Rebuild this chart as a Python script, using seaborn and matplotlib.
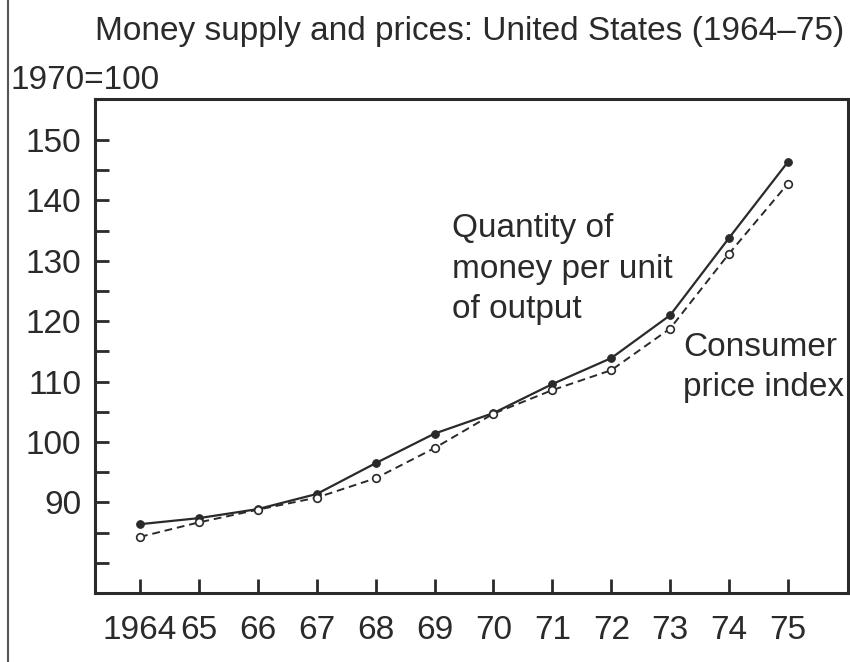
import matplotlib
matplotlib.use('Agg')
import matplotlib.pyplot as plt
from matplotlib.lines import Line2D
import numpy as np
import pandas as pd
import seaborn as sns

# ---------------------------------------------------------------------------
# Dados (1970=100)
# ---------------------------------------------------------------------------
anos = [1964, 1965, 1966, 1967, 1968, 1969, 1970, 1971, 1972, 1973, 1974, 1975]
rotulos_anos = ['1964', '65', '66', '67', '68', '69', '70', '71', '72', '73', '74', '75']
moeda_por_produto = [86.4, 87.4, 88.9, 91.4, 96.5, 101.4, 104.8, 109.6, 113.9, 121.0, 133.8, 146.4]
indice_precos = [84.3, 86.7, 88.8, 90.8, 94.0, 99.0, 104.7, 108.6, 111.9, 118.8, 131.2, 142.8]

sns.set_theme(style="ticks")
plt.rcParams['font.family'] = ['Liberation Sans', 'DejaVu Sans']

COR = '#2a2a2a'
FONTE = 24

df = pd.DataFrame({'ano': anos, 'moeda': moeda_por_produto, 'cpi': indice_precos})

fig = plt.figure(figsize=(8.5, 6.62), dpi=100)
ax = fig.add_axes([0.1118, 0.1042, 0.8859, 0.7462])

sns.lineplot(data=df, x='ano', y='moeda', ax=ax, color=COR, linewidth=1.6,
             marker='o', markersize=5.5, markerfacecolor=COR, markeredgecolor=COR)
sns.lineplot(data=df, x='ano', y='cpi', ax=ax, color=COR, linewidth=1.4,
             linestyle=(0, (4, 2.5)), marker='o', markersize=5.5,
             markerfacecolor='white', markeredgecolor=COR, markeredgewidth=1.2)

ax.set_xlim(1963.236, 1976.02)
ax.set_ylim(75.0, 156.8)
ax.set_xlabel('')
ax.set_ylabel('')

ax.set_xticks(anos)
ax.set_xticklabels(rotulos_anos, fontsize=FONTE, color=COR)
yticks = np.arange(80, 151, 5)
ax.set_yticks(yticks)
ax.set_yticklabels([str(v) if (v % 10 == 0 and v >= 90) else '' for v in yticks],
                   fontsize=FONTE, color=COR)
ax.tick_params(axis='both', direction='in', length=10, width=2, color=COR)
ax.tick_params(axis='y', pad=10)
ax.tick_params(axis='x', pad=16)

for s in ax.spines.values():
    s.set_visible(True)
    s.set_color(COR)
    s.set_linewidth(2.2)

ax.text(1969.30, 137.9, 'Quantity of\nmoney per unit\nof output', fontsize=FONTE,
        color=COR, ha='left', va='top', linespacing=1.4)
ax.text(1973.22, 118.3, 'Consumer\nprice index', fontsize=FONTE,
        color=COR, ha='left', va='top', linespacing=1.4)

fig.text(0.112, 0.953, 'Money supply and prices: United States (1964\u201375)',
         fontsize=FONTE, color=COR, ha='left', va='center')
fig.text(0.012, 0.879, '1970=100', fontsize=FONTE, color=COR, ha='left', va='center')

# borda da página à esquerda
fig.add_artist(Line2D([0.0095, 0.0095], [0, 1], transform=fig.transFigure,
                      color='#555555', linewidth=1.5))

plt.savefig('out.png', dpi=100)
plt.close()
